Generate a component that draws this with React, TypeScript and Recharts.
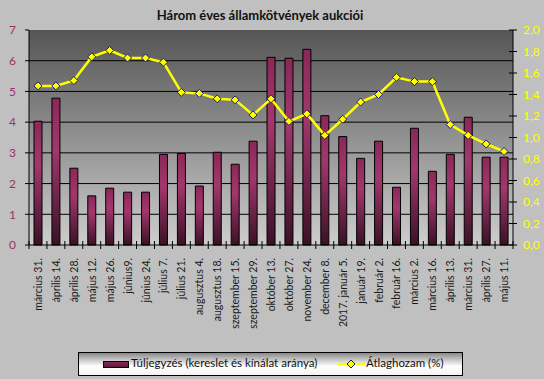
import React from 'react';
import { ComposedChart, Bar, Line, XAxis, YAxis, CartesianGrid } from 'recharts';

const categories = [
  'március 31.', 'április 14.', 'április 28.', 'május 12.', 'május 26.', 'június9.', 'június 24.',
  'július 7.', 'július 21.', 'augusztus 4.', 'augusztus 18.', 'szeptember 15.', 'szeptember 29.',
  'október 13.', 'október 27.', 'november 24.', 'december 8.', '2017. január 5.', 'január 19.',
  'február 2.', 'február 16.', 'március 2.', 'március 16.', 'április 13.', 'március 31.',
  'április 27.', 'május 11.',
];
const oversubscription = [
  4.03, 4.78, 2.5, 1.6, 1.85, 1.72, 1.72, 2.95, 2.98, 1.92, 3.02, 2.63, 3.38,
  6.11, 6.08, 6.37, 4.21, 3.53, 2.82, 3.38, 1.88, 3.8, 2.4, 2.95, 4.16, 2.86, 2.86,
];
const avgYield = [
  1.48, 1.48, 1.53, 1.75, 1.81, 1.74, 1.74, 1.7, 1.42, 1.41, 1.36, 1.35, 1.21,
  1.36, 1.15, 1.22, 1.02, 1.17, 1.33, 1.4, 1.56, 1.52, 1.52, 1.12, 1.02, 0.94, 0.87,
];
const leftTicks = [0, 1, 2, 3, 4, 5, 6, 7];
const rightTicks = [0, 0.2, 0.4, 0.6, 0.8, 1.0, 1.2, 1.4, 1.6, 1.8, 2.0];
const gridValues = [1, 2, 3, 4, 5, 6];

const title = 'Három éves államkötvények aukciói';
const barName = 'Túljegyzés (kereslet és kínálat aránya)';
const lineName = 'Átlaghozam (%)';

const data = categories.map((c, i) => ({ cat: c, bar: oversubscription[i], line: avgYield[i] }));

const W = 544;
const H = 379;
const PLOT_LEFT = 29;
const PLOT_RIGHT = 513;
const BAND = (PLOT_RIGHT - PLOT_LEFT) / categories.length;
const FONT = 'Lato, "Liberation Sans", Arial, sans-serif';

const XTick = (props: any) => {
  const { x, y, payload, index } = props;
  const isLast = index === categories.length - 1;
  return (
    <g>
      <line x1={x - BAND / 2} x2={x - BAND / 2} y1={y - 4} y2={y + 4} stroke="#000" />
      {isLast && <line x1={x + BAND / 2} x2={x + BAND / 2} y1={y - 4} y2={y + 4} stroke="#000" />}
      <text
        x={0}
        y={0}
        transform={`translate(${x + 4},${y + 13}) rotate(-90)`}
        textAnchor="end"
        fontSize={10.5}
        fontFamily={FONT}
        fill="#1a1a1a"
      >
        {payload.value}
      </text>
    </g>
  );
};

const RightTick = (props: any) => {
  const { x, y, payload } = props;
  return (
    <g>
      <line x1={x - 4} x2={x + 4} y1={y} y2={y} stroke="#000" />
      <text x={x + 10} y={y + 4} fontSize={12} fontFamily={FONT} fill="#ffff00" textAnchor="start">
        {Number(payload.value).toFixed(1).replace('.', ',')}
      </text>
    </g>
  );
};

const Diamond = (props: any) => {
  const { cx, cy, index } = props;
  if (cx == null || cy == null) return <g key={index} />;
  const r = 4;
  return (
    <polygon
      key={index}
      points={`${cx},${cy - r} ${cx + r},${cy} ${cx},${cy + r} ${cx - r},${cy}`}
      fill="#ffff00"
      stroke="#1c1c78"
      strokeWidth={1}
    />
  );
};

export default function App() {
  return (
    <div style={{ position: 'absolute', left: 0, top: 0, width: W, height: H, background: '#c0c0c0', overflow: 'hidden' }}>
      <svg width={0} height={0} style={{ position: 'absolute' }}>
        <defs>
          <linearGradient id="plotBg" x1="0" y1="0" x2="0" y2="1">
            <stop offset="0%" stopColor="#555555" />
            <stop offset="100%" stopColor="#cdcdcd" />
          </linearGradient>
          <linearGradient id="barGrad" x1="0" y1="0" x2="0" y2="1">
            <stop offset="0%" stopColor="#8a2858" />
            <stop offset="35%" stopColor="#a3376d" />
            <stop offset="100%" stopColor="#3a1126" />
          </linearGradient>
        </defs>
      </svg>
      <div
        style={{
          position: 'absolute', left: 0, top: 7, width: 520, textAlign: 'center',
          fontFamily: FONT, fontWeight: 'bold', fontSize: 13, color: '#111',
        }}
      >
        {title}
      </div>
      <ComposedChart width={W} height={H} data={data} margin={{ top: 30, right: 0, bottom: 34, left: 0 }}>
        <CartesianGrid
          yAxisId="left"
          vertical={false}
          horizontalValues={gridValues}
          stroke="#000"
          fill="url(#plotBg)"
          fillOpacity={1}
        />
        <XAxis
          dataKey="cat"
          interval={0}
          height={100}
          tickSize={0}
          tickMargin={0}
          tickLine={false}
          axisLine={{ stroke: '#000' }}
          tick={<XTick />}
        />
        <YAxis
          yAxisId="left"
          orientation="left"
          width={29}
          domain={[0, 7]}
          ticks={leftTicks}
          interval={0}
          tickSize={4}
          tickMargin={9}
          tickLine={{ stroke: '#000' }}
          axisLine={{ stroke: '#000' }}
          tick={{ fill: '#993366', fontSize: 12, fontFamily: FONT }}
        />
        <YAxis
          yAxisId="right"
          orientation="right"
          width={31}
          domain={[0, 2]}
          ticks={rightTicks}
          interval={0}
          tickSize={0}
          tickMargin={0}
          tickLine={false}
          axisLine={{ stroke: '#000' }}
          tick={<RightTick />}
        />
        <Bar
          yAxisId="left"
          dataKey="bar"
          name={barName}
          barSize={8}
          fill="url(#barGrad)"
          stroke="#000"
          strokeWidth={1}
          isAnimationActive={false}
        />
        <Line
          yAxisId="right"
          dataKey="line"
          name={lineName}
          type="linear"
          stroke="#ffff00"
          strokeWidth={2.5}
          dot={<Diamond />}
          activeDot={false}
          isAnimationActive={false}
        />
      </ComposedChart>
      <div
        style={{
          position: 'absolute', left: 78, top: 352, width: 383, height: 22,
          border: '1px solid #000',
          background: 'linear-gradient(to bottom, #8a8a8a 0%, #ffffff 60%, #f2f2f2 100%)',
          fontFamily: FONT, fontSize: 11.5, color: '#111',
        }}
      >
        <div
          style={{
            position: 'absolute', left: 24, top: 8, width: 24, height: 5,
            border: '1px solid #000',
            background: 'linear-gradient(to bottom, #8a2858, #5a1a3a)',
          }}
        />
        <span style={{ position: 'absolute', left: 52, top: 3, whiteSpace: 'nowrap' }}>{barName}</span>
        <svg style={{ position: 'absolute', left: 258, top: 5 }} width={28} height={12}>
          <line x1={0} x2={28} y1={6} y2={6} stroke="#ffff00" strokeWidth={2.5} />
          <polygon points="14,2 18,6 14,10 10,6" fill="#ffff00" stroke="#1c1c78" strokeWidth={1} />
        </svg>
        <span style={{ position: 'absolute', left: 287, top: 3, whiteSpace: 'nowrap' }}>{lineName}</span>
      </div>
    </div>
  );
}
